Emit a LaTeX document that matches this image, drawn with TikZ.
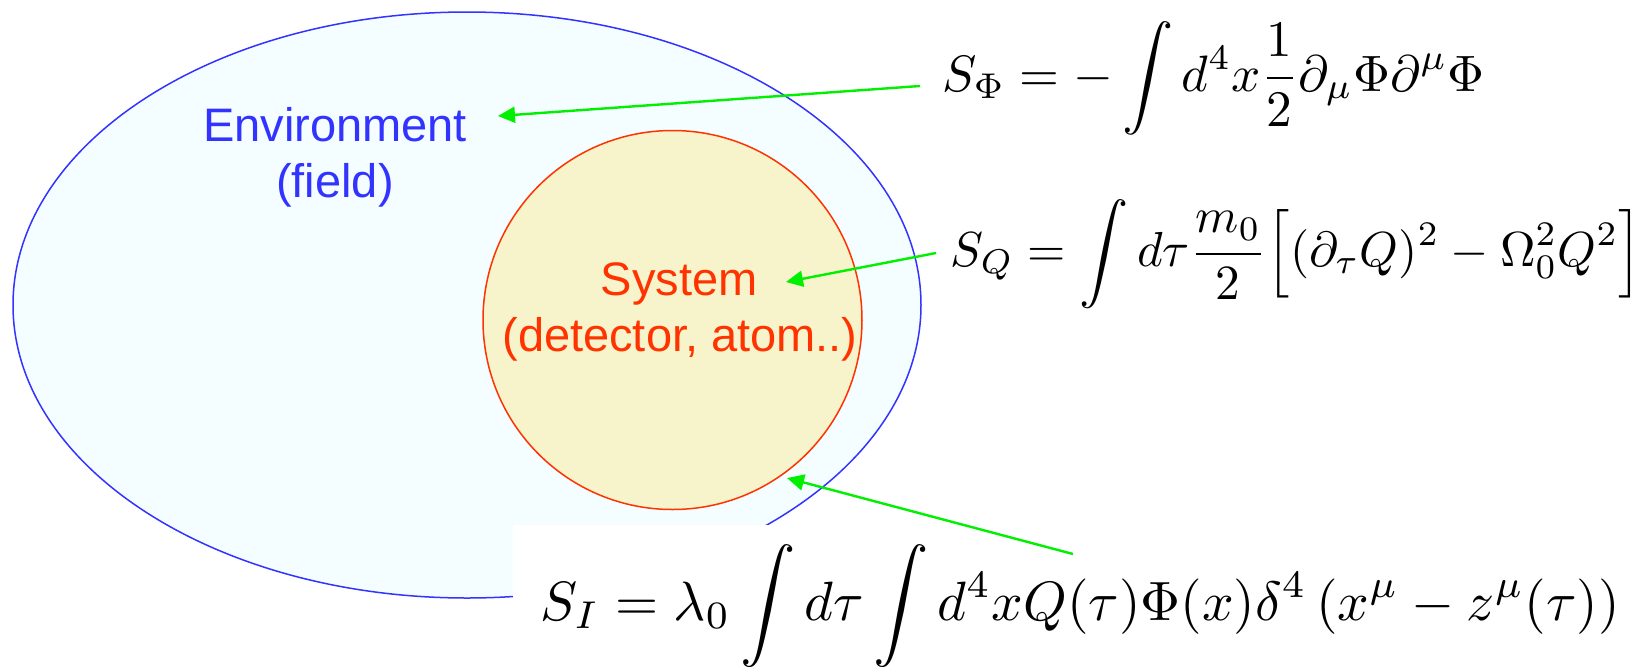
\documentclass[tikz,border=0pt]{standalone}
\usepackage[no-math]{fontspec}
\newfontfamily\arialf{Liberation Sans}
\usetikzlibrary{arrows.meta}
\definecolor{envfill}{RGB}{244,253,255}
\definecolor{envblue}{RGB}{51,51,255}
\definecolor{sysfill}{RGB}{247,244,204}
\definecolor{sysred}{RGB}{255,51,0}
\definecolor{arrowgreen}{RGB}{0,240,0}
\newcommand{\eqsc}[2]{\scalebox{#1}{$\displaystyle #2$}}
\tikzset{
  lbl/.style={font=\arialf\fontsize{23.5}{28}\selectfont, inner sep=0pt, anchor=base},
  eqn/.style={inner sep=0pt, anchor=base west, text=black},
  ptr/.style={draw=arrowgreen, line width=1.2pt, -{Triangle[length=8.5pt,width=8pt]}},
}
\begin{document}
\begin{tikzpicture}[x=0.5pt, y=-0.5pt]
\useasboundingbox (0,0) rectangle (1646,666);
% environment ellipse
\path[fill=envfill, draw=envblue, line width=0.75pt] (467,305) ellipse [x radius=454, y radius=293];
% system circle
\path[fill=sysfill, draw=sysred, line width=0.75pt] (672.5,320) circle [radius=189.5];
% white box behind the interaction term
\fill[white] (513,525) rectangle (1646,666);
% labels
\node[lbl, text=envblue] (env1) at (335,141) {Environment};
\node[lbl, text=envblue] (env2) at (335,197) {(field)};
\node[lbl, text=sysred] (sys1) at (679,295) {System};
\node[lbl, text=sysred] (sys2) at (680,351) {(detector, atom..)};
% equations
\node[eqn] (sphi) at (942,91) {\eqsc{2.56}{S_\Phi = -\int d^4x\frac{1}{2}\partial_\mu\Phi\partial^\mu\Phi}};
\node[eqn] (sq) at (950,266) {\eqsc{2.46}{S_Q = \int d\tau\frac{m_0}{2}\Big[(\partial_\tau Q)^2 - \Omega_0^2Q^2\Big]}};
\node[eqn] (si) at (540,620) {\eqsc{2.77}{S_I = \lambda_0\int d\tau\int d^4xQ(\tau)\Phi(x)\delta^4\left(x^\mu - z^\mu(\tau)\right)}};
% arrows
\coordinate (a1s) at (920,86);
\coordinate (a1e) at (498,116);
\coordinate (a2s) at (936,253);
\coordinate (a2e) at (786,282);
\coordinate (a3s) at (1073,554);
\coordinate (a3e) at (787,478);
\draw[ptr] (a1s) -- (a1e);
\draw[ptr] (a2s) -- (a2e);
\draw[ptr] (a3s) -- (a3e);
\end{tikzpicture}
\end{document}
